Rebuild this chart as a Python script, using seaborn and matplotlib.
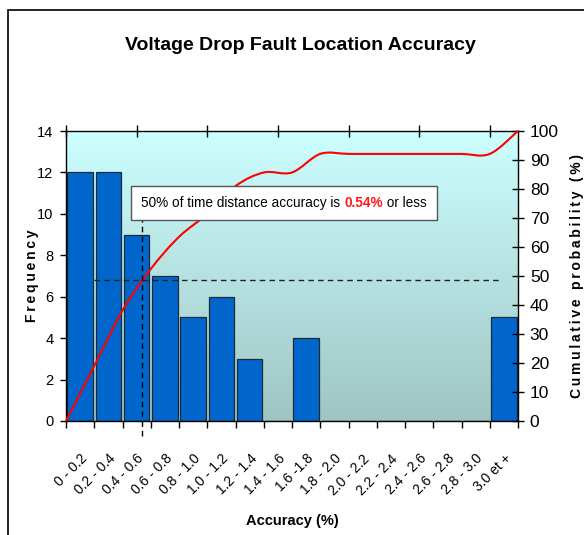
import numpy as np
import pandas as pd
import matplotlib
matplotlib.use("Agg")
import matplotlib.pyplot as plt
import seaborn as sns
from matplotlib.path import Path
from matplotlib.patches import PathPatch, Rectangle
from matplotlib.offsetbox import TextArea, HPacker, AnchoredOffsetbox
from matplotlib.colors import LinearSegmentedColormap

# ---- data ----
bins = ["0 - 0.2", "0.2 - 0.4", "0.4 - 0.6", "0.6 - 0.8", "0.8 - 1.0", "1.0 - 1.2",
        "1.2 - 1.4", "1.4 - 1.6", "1.6 -1.8", "1.8 - 2.0", "2.0 - 2.2", "2.2 - 2.4",
        "2.4 - 2.6", "2.6 - 2.8", "2.8 - 3.0", "3.0 et +"]
frequency = [12, 12, 9, 7, 5, 6, 3, 0, 4, 0, 0, 0, 0, 0, 0, 5]
# cumulative probability (%) at bin edges (0 at the left edge)
cumulative = [0, 19.0, 38.1, 52.4, 63.5, 71.4, 81.0, 85.7, 85.7, 92.1, 92.1,
              92.1, 92.1, 92.1, 92.1, 92.1, 100]
freq_ticks = [0, 2, 4, 6, 8, 10, 12, 14]
prob_ticks = [0, 10, 20, 30, 40, 50, 60, 70, 80, 90, 100]
median_accuracy = 0.54   # %
median_level = 48.5      # % level of the dashed guide
bin_width = 0.2

sns.set_theme(style="white")
FAM = ['Liberation Sans', 'DejaVu Sans']
plt.rcParams['font.family'] = FAM
plt.rcParams.update({"text.color": "black", "axes.labelcolor": "black",
                     "xtick.color": "black", "ytick.color": "black"})

fig = plt.figure(figsize=(5.84, 5.35), dpi=100)
ax = fig.add_axes([66/584, 114/535, 452/584, 290/535])

# gradient background
grad = np.linspace(0, 1, 256).reshape(-1, 1)
cmap = LinearSegmentedColormap.from_list("bg", ["#9fc5c3", "#ccffff"])
ax.imshow(grad, cmap=cmap, aspect="auto", extent=[0, 1, 0, 1],
          transform=ax.transAxes, origin="lower", zorder=0)

df = pd.DataFrame({"bin": bins, "freq": frequency})
sns.barplot(data=df, x="bin", y="freq", color="#0066cc", saturation=1,
            width=0.91, edgecolor="#1a2a3a", linewidth=0.9, ax=ax, zorder=2)

n = len(bins)
ax.set_xlim(-0.5, n - 0.5)
ax.set_ylim(0, 14)
ax.set_yticks(freq_ticks)
ax.set_yticklabels([str(t) for t in freq_ticks], fontsize=10.5)
# bottom ticks at bin edges, labels at centers
ax.set_xticks(np.arange(n + 1) - 0.5)
ax.set_xticklabels([])
ax.set_xticks(np.arange(n), minor=True)
ax.set_xticklabels(bins, minor=True, rotation=45, ha="right", va="top",
                   rotation_mode="anchor", fontsize=10)
ax.tick_params(axis="x", which="minor", length=0, pad=22)
ax.tick_params(axis="x", which="major", direction="out", length=5, width=1,
               color="black", bottom=True)
ax.tick_params(axis="y", direction="out", length=4, width=1, color="black",
               left=True, pad=5)
ax.set_xlabel("Accuracy (%)", fontsize=10.5, fontweight="bold", labelpad=12)
TS = "\u2009"
ax.set_ylabel(TS.join("Frequency"), fontsize=10, fontweight="bold", labelpad=-1)
for s in ax.spines.values():
    s.set_color("black")
    s.set_linewidth(1)
    s.set_visible(True)
ax.grid(False)

# secondary axis for cumulative probability
ax2 = ax.twinx()
ax2.set_ylim(0, 100)
ax2.set_yticks(prob_ticks)
ax2.set_yticklabels([str(t) for t in prob_ticks], fontsize=12.5)
ax2.tick_params(axis="y", direction="inout", length=9, width=1, color="black",
                right=True, pad=4)
ax2.set_ylabel(TS.join("Cumulative probability (%)"), fontsize=10,
               fontweight="bold", rotation=90, labelpad=8)
ax2.yaxis.set_label_position("right")
for s in ax2.spines.values():
    s.set_visible(False)
ax2.grid(False)

# top secondary x ticks
axt = ax.secondary_xaxis("top")
axt.set_xticks(np.arange(0, 16, 2.5) - 0.5)
axt.set_xticklabels([])
axt.tick_params(direction="inout", length=9, width=1, color="black")
axt.spines["top"].set_visible(False)

# smoothed cumulative line (Bezier through the cumulative points)
xs = np.arange(len(cumulative)) - 0.5
ys = np.array(cumulative, dtype=float)
verts = [(xs[0], ys[0])]
codes = [Path.MOVETO]
m = len(xs)
for i in range(m - 1):
    p0 = (xs[max(i - 1, 0)], ys[max(i - 1, 0)])
    p1 = (xs[i], ys[i])
    p2 = (xs[i + 1], ys[i + 1])
    p3 = (xs[min(i + 2, m - 1)], ys[min(i + 2, m - 1)])
    c1 = (p1[0] + (p2[0] - p0[0]) / 6, p1[1] + (p2[1] - p0[1]) / 6)
    c2 = (p2[0] - (p3[0] - p1[0]) / 6, p2[1] - (p3[1] - p1[1]) / 6)
    verts += [c1, c2, p2]
    codes += [Path.CURVE4] * 3
ax2.add_patch(PathPatch(Path(verts, codes), fill=False, edgecolor="red",
                        lw=1.5, zorder=4, clip_on=False))

# dashed guides
xmed = median_accuracy / bin_width - 0.5
ax2.plot([0.5, 14.93], [median_level, median_level], ls=(0, (4, 3)),
         color="#222222", lw=1, zorder=5)
ax2.plot([xmed, xmed], [-5.2, 69.5], ls=(0, (4, 3)), color="black", lw=1,
         zorder=5, clip_on=False)

# annotation box
BF = 9.8
t1 = TextArea("50% of time distance accuracy is ",
              textprops=dict(fontsize=BF, color="black", family=FAM))
t2 = TextArea("0.54%", textprops=dict(fontsize=BF, color="#ff1a1a",
                                      fontweight="bold", family=FAM))
t3 = TextArea(" or less", textprops=dict(fontsize=BF, color="black", family=FAM))
box = HPacker(children=[t1, t2, t3], align="baseline", pad=0, sep=0)
anch = AnchoredOffsetbox(loc="center", child=box, pad=0.75, frameon=True,
                         bbox_to_anchor=(284/584, 1 - 203/535),
                         bbox_transform=fig.transFigure, borderpad=0,
                         prop=dict(size=10))
anch.patch.set_facecolor("white")
anch.patch.set_edgecolor("#555555")
anch.patch.set_linewidth(1)
anch.set_zorder(6)
ax2.add_artist(anch)

# title
fig.text(300/584, 1 - 45/535, "Voltage Drop Fault Location Accuracy",
         ha="center", va="center", fontsize=14, fontweight="bold", color="black")

# chart frame
fig.add_artist(Rectangle((8/584, -0.1), 1.2, 1 - 10/535 + 0.1,
                         transform=fig.transFigure, fill=False,
                         edgecolor="black", lw=1.2))

fig.savefig("out.png", dpi=100)
